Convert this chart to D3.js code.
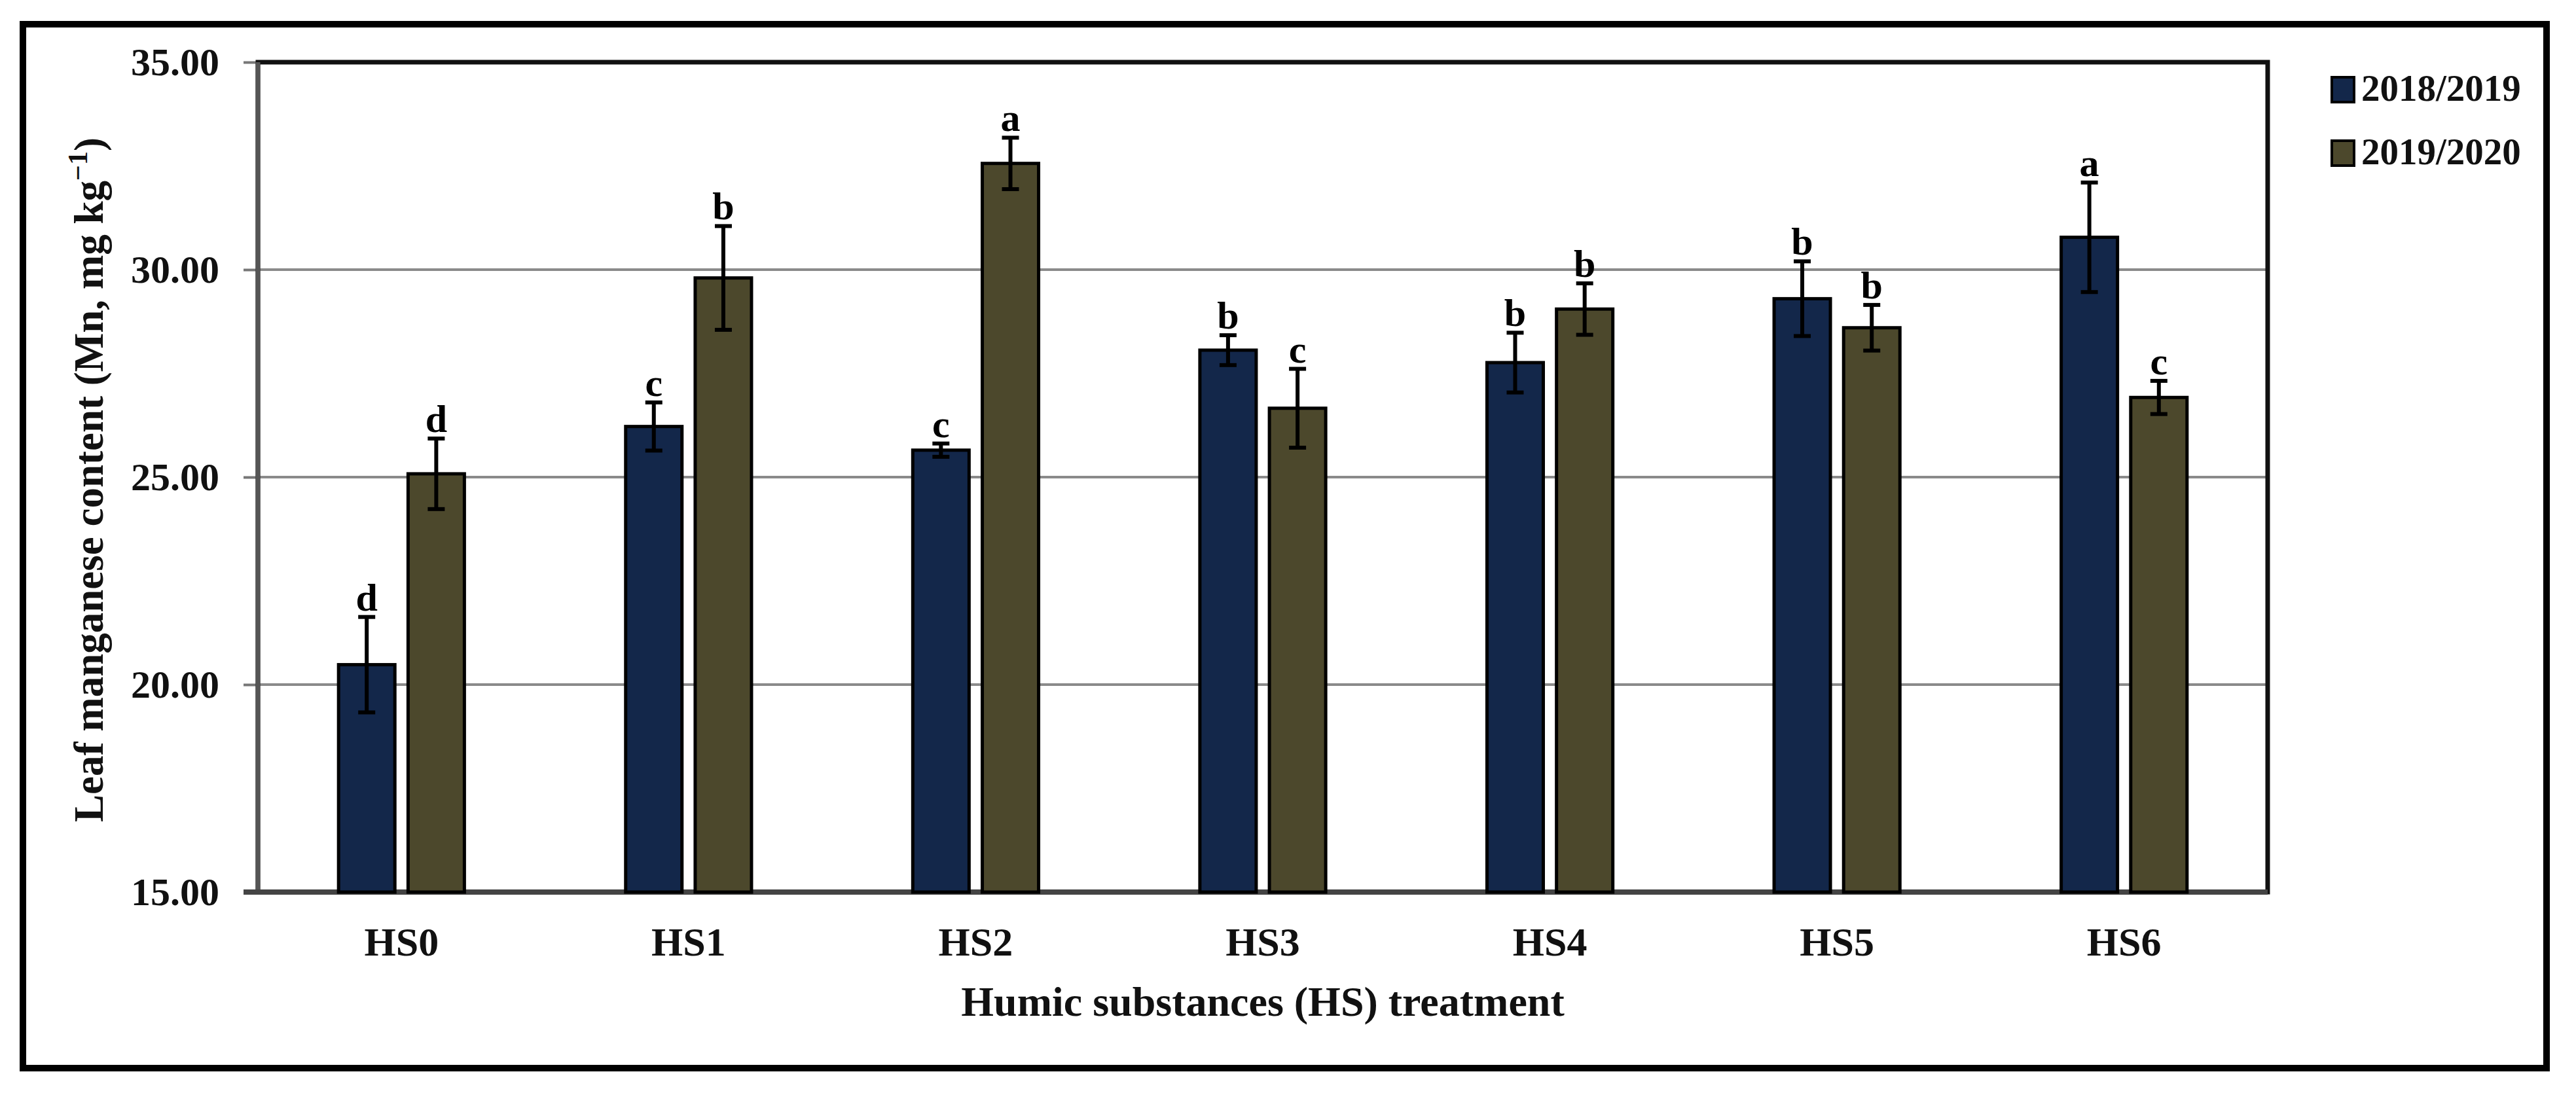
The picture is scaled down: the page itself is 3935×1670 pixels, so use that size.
<!DOCTYPE html>
<html><head><meta charset="utf-8">
<script src="https://cdn.jsdelivr.net/npm/d3@7"></script>
<style>body{margin:0;background:#fff}svg{display:block}text{font-family:"Liberation Serif","Times New Roman",serif;font-weight:bold}</style>
</head><body>
<svg id="c" width="3935" height="1670"></svg>
<script>
const categories = ["HS0","HS1","HS2","HS3","HS4","HS5","HS6"];
const seriesNames = ["2018/2019","2019/2020"];
const values2018 = [20.48,26.22,25.65,28.06,27.76,29.30,30.78];
const values2019 = [25.08,29.80,32.56,26.66,29.05,28.60,26.92];
const err2018 = [1.15,0.58,0.16,0.36,0.72,0.90,1.32];
const err2019 = [0.85,1.25,0.62,0.95,0.62,0.55,0.40];
const letters2018 = ["d","c","c","b","b","b","a"];
const letters2019 = ["d","b","a","c","b","b","c"];
const yTicks = [15,20,25,30,35];
const colors = ["#13274a","#4c482c"];

const svg = d3.select("#c");
const L=394,R=3464,T=95,B=1363;
const x = d3.scaleBand().domain(categories).range([L,R]).paddingInner(0).paddingOuter(0);
const xs = d3.scaleBand().domain([0,1]).range([0,x.bandwidth()]).paddingInner(0.19).paddingOuter(1.16);
const y = d3.scaleLinear().domain([15,35]).range([B,T]);

svg.append("rect").attr("x",35).attr("y",37).attr("width",3855).attr("height",1595)
  .attr("fill","none").attr("stroke","#000").attr("stroke-width",10);

// gridlines
svg.append("g").selectAll("line").data(yTicks.slice(1,-1)).join("line")
  .attr("x1",L).attr("x2",R).attr("y1",d=>y(d)).attr("y2",d=>y(d))
  .attr("stroke","#8a8a8a").attr("stroke-width",4);

// y axis
const ya = svg.append("g").attr("transform",`translate(${L},0)`)
  .call(d3.axisLeft(y).tickValues(yTicks).tickFormat(d3.format(".2f")).tickSize(22).tickPadding(37));
ya.select(".domain").remove();
ya.selectAll("line").attr("stroke","#777").attr("stroke-width",4);
ya.selectAll("text").attr("font-size",60).attr("fill","#111").attr("font-family","Liberation Serif");

// plot frame
svg.append("rect").attr("x",L).attr("y",T).attr("width",R-L).attr("height",B-T)
  .attr("fill","none").attr("stroke","#111").attr("stroke-width",7);
svg.append("line").attr("x1",L).attr("x2",L).attr("y1",T).attr("y2",B).attr("stroke","#555").attr("stroke-width",7);
svg.append("line").attr("x1",L-22).attr("x2",R).attr("y1",B).attr("y2",B).attr("stroke","#444").attr("stroke-width",8);

const data = [];
categories.forEach((c,i)=>{
  data.push({c,s:0,v:values2018[i],e:err2018[i],l:letters2018[i]});
  data.push({c,s:1,v:values2019[i],e:err2019[i],l:letters2019[i]});
});
const g = svg.append("g");
g.selectAll("rect").data(data).join("rect")
  .attr("x",d=>x(d.c)+xs(d.s)).attr("width",xs.bandwidth())
  .attr("y",d=>y(d.v)).attr("height",d=>B-y(d.v))
  .attr("fill",d=>colors[d.s]).attr("stroke","#000").attr("stroke-width",5);
const cx = d=>x(d.c)+xs(d.s)+xs.bandwidth()/2;
const eb = svg.append("g").attr("stroke","#000").attr("stroke-width",6);
data.forEach(d=>{
  eb.append("line").attr("x1",cx(d)).attr("x2",cx(d)).attr("y1",y(d.v+d.e)).attr("y2",y(d.v-d.e));
  eb.append("line").attr("x1",cx(d)-13).attr("x2",cx(d)+13).attr("y1",y(d.v+d.e)).attr("y2",y(d.v+d.e));
  eb.append("line").attr("x1",cx(d)-13).attr("x2",cx(d)+13).attr("y1",y(d.v-d.e)).attr("y2",y(d.v-d.e));
});
svg.append("g").selectAll("text").data(data).join("text")
  .attr("x",cx).attr("y",d=>y(d.v+d.e)-10).attr("text-anchor","middle")
  .attr("font-size",60).attr("fill","#000").text(d=>d.l);

// x axis labels
svg.append("g").selectAll("text").data(categories).join("text")
  .attr("x",d=>x(d)+x.bandwidth()/2).attr("y",1460).attr("text-anchor","middle")
  .attr("font-size",62).attr("fill","#111").text(d=>d);
svg.append("text").attr("x",(L+R)/2).attr("y",1552).attr("text-anchor","middle")
  .attr("font-size",64).attr("fill","#111").text("Humic substances (HS) treatment");

// y title
const yt = svg.append("text").attr("transform",`translate(157,733) rotate(-90)`)
  .attr("text-anchor","middle").attr("font-size",63).attr("fill","#111");
yt.append("tspan").text("Leaf manganese content (Mn, mg kg");
yt.append("tspan").attr("dy",-24).attr("font-size",42).text("−1");
yt.append("tspan").attr("dy",24).text(")");

// legend
const lg = svg.append("g").selectAll("g").data(seriesNames).join("g")
  .attr("transform",(d,i)=>`translate(3562,${137+i*97})`);
lg.append("rect").attr("x",0).attr("y",-19).attr("width",34).attr("height",38)
  .attr("fill",(d,i)=>colors[i]).attr("stroke","#000").attr("stroke-width",4);
lg.append("text").attr("x",45).attr("y",17).attr("font-size",57).attr("fill","#111").text(d=>d);
</script>
</body></html>
